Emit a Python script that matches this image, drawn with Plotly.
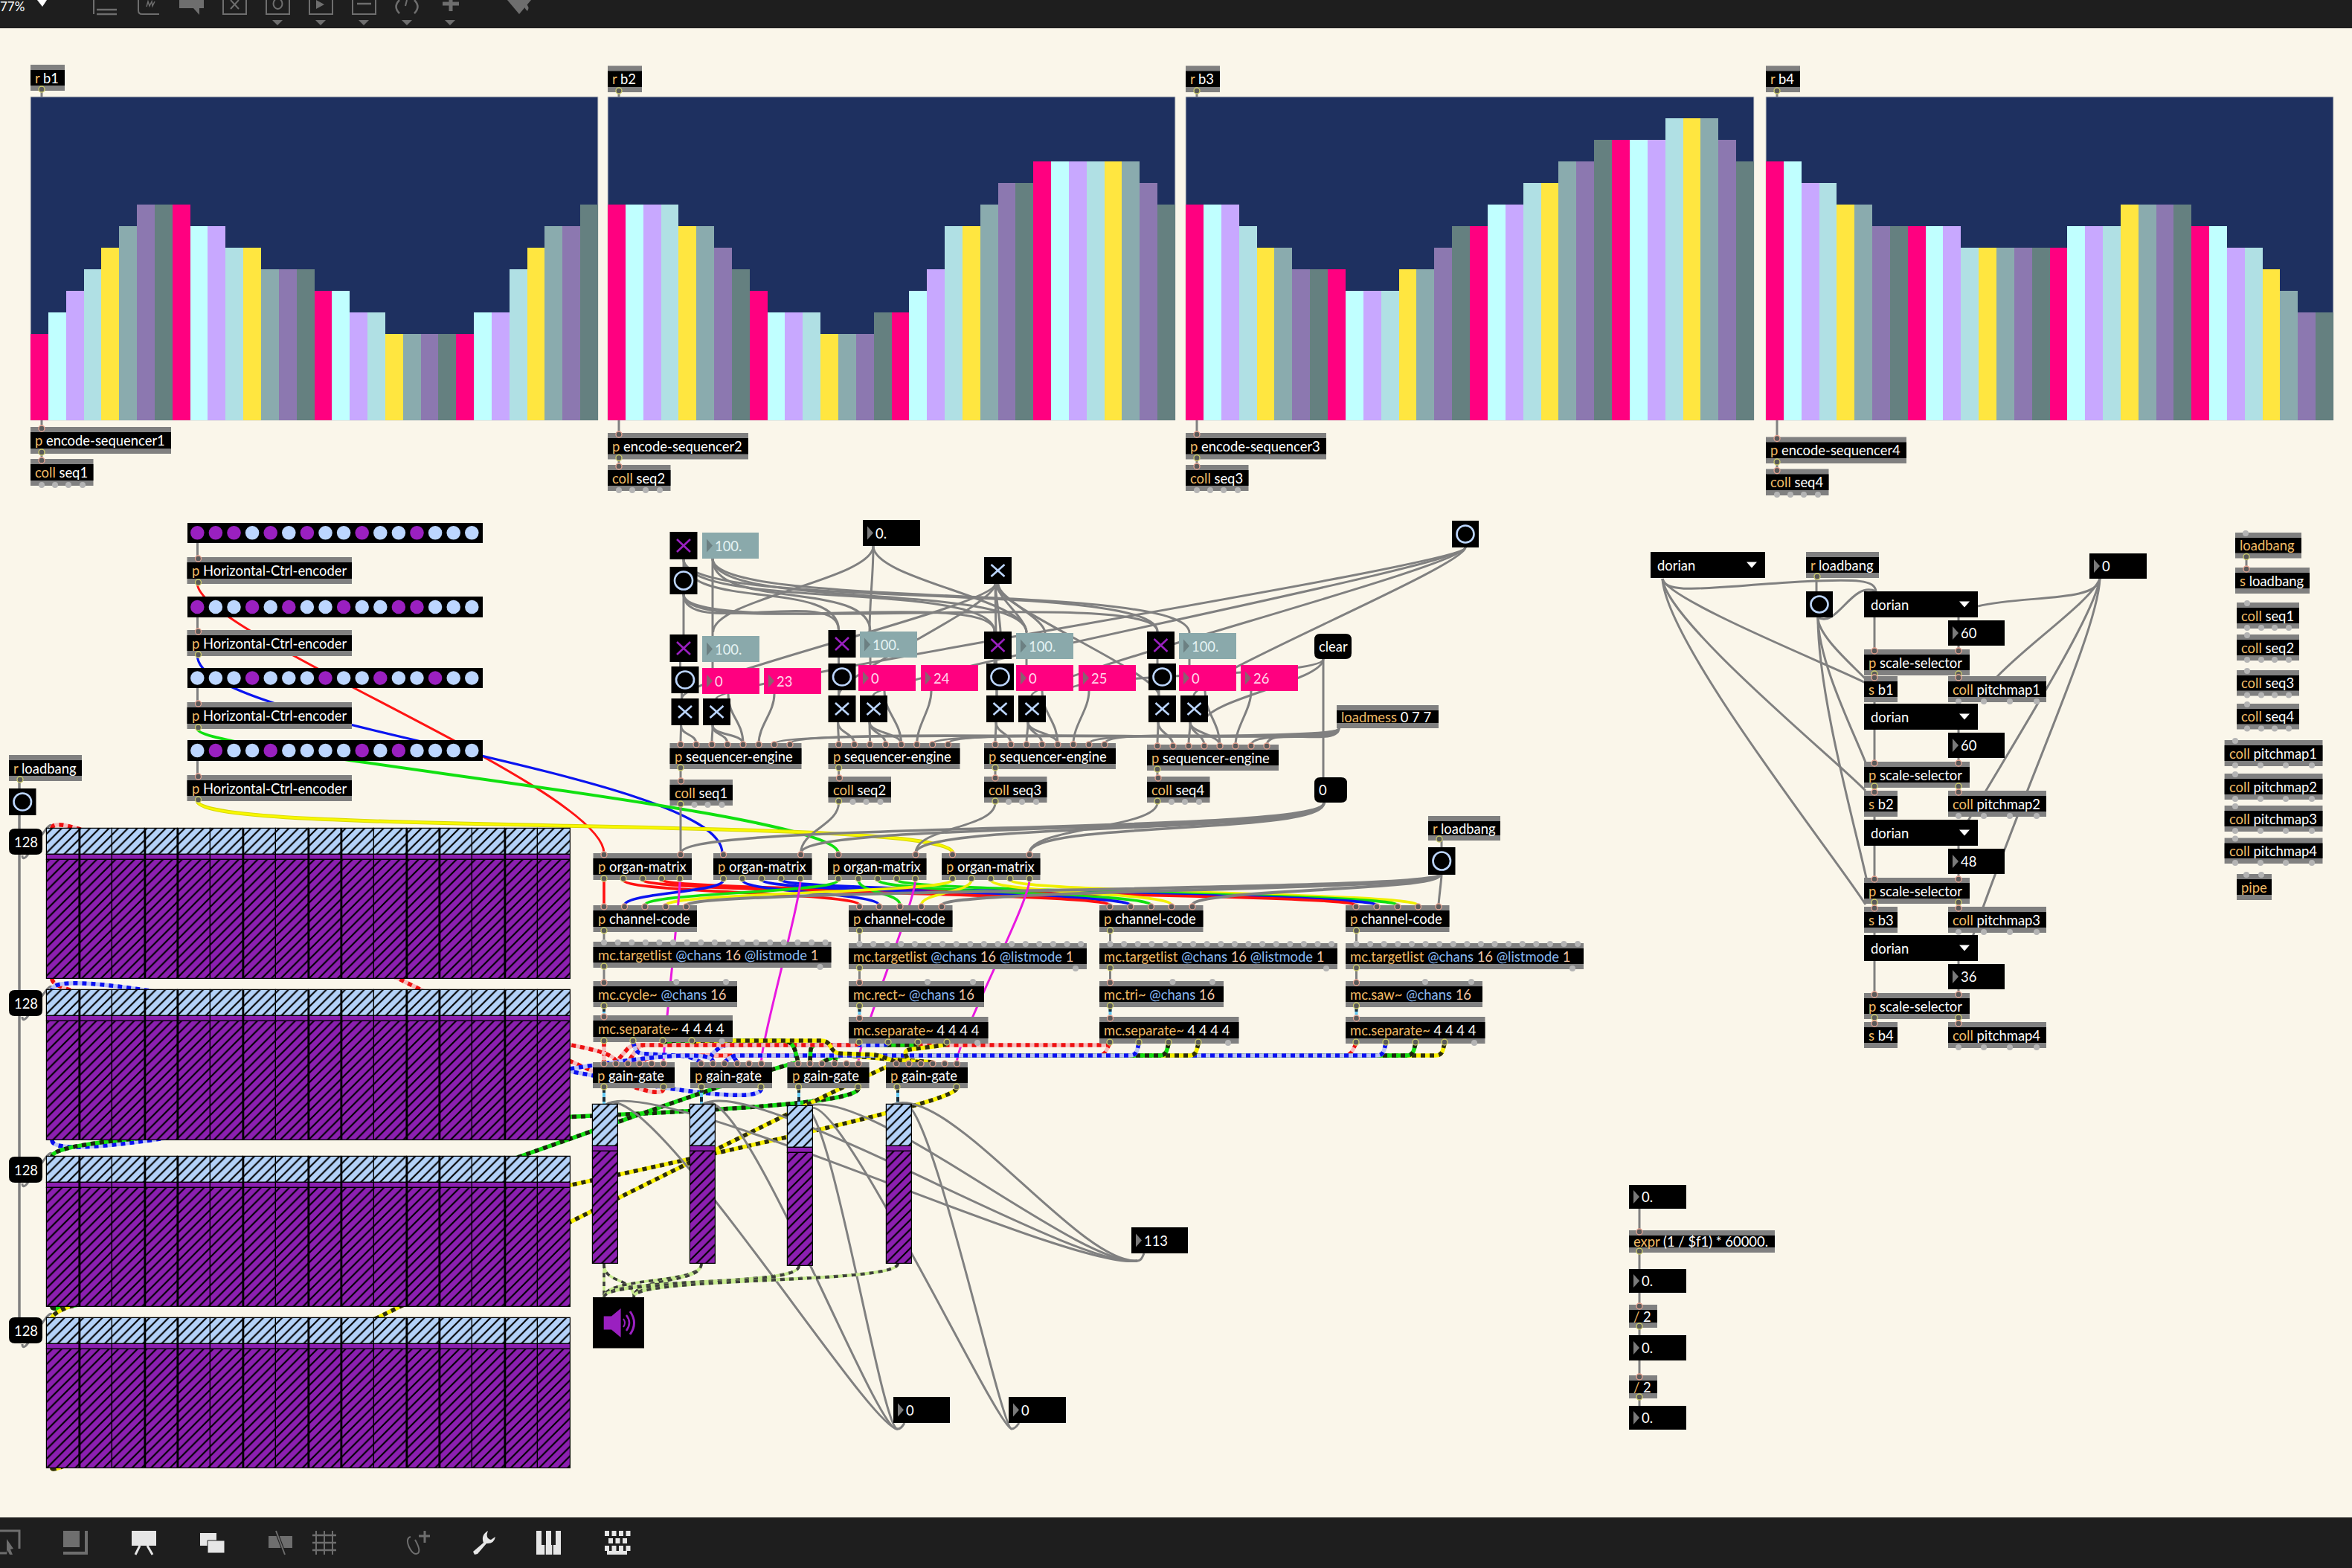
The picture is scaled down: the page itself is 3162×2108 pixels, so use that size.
import plotly.graph_objects as go

# ---------------- data ----------------
seq_levels_1 = [4,5,6,7,8,9,10,10,10,9,9,8,8,7,7,7,6,6,5,5,4,4,4,4,4,5,5,7,8,9,9,10]
seq_levels_2 = [10,10,10,10,9,9,8,7,6,5,5,5,4,4,4,5,5,6,7,9,9,10,11,11,12,12,12,12,12,12,11,10]
seq_levels_3 = [10,10,10,9,8,8,7,7,7,6,6,6,7,7,8,9,9,10,10,11,11,12,12,13,13,13,13,14,14,14,13,12]
seq_levels_4 = [12,12,11,11,10,10,9,9,9,9,9,8,8,8,8,8,8,9,9,9,10,10,10,10,9,9,8,8,7,6,5,5]
bar_palette = ["#ff0080","#c0ffff","#c8a8ff","#b0e0e4","#ffe640","#8aabae","#8c78b0","#658080"]
toggles_1 = [1,1,1,0,1,0,1,0,0,1,0,0,1,0,0,0]
toggles_2 = [1,0,0,1,0,1,0,0,1,0,0,1,1,0,0,0]
toggles_3 = [0,0,0,1,0,0,0,1,0,0,1,0,0,1,0,0]
toggles_4 = [0,1,0,0,1,0,0,0,0,1,0,1,0,0,0,0]
bank_value = [128]*16
bank_max = 154.4
gain_fraction = [0.74,0.74,0.74,0.74]
pitch_values = ["60","60","48","36"]
wave_objects = ["mc.cycle~","mc.rect~","mc.tri~","mc.saw~"]

BG="#faf6ea"; GRAY="#808080"; BAND="#808080"; ORANGE="#f2bb66"; PURPLE="#9a20c0"; LIGHT="#bcd6ff"
PINK="#ff0080"; TEAL="#8aa9ab"; CBLUE="#8ab8f0"; PEACH="#f4c8a8"
FONT="Lato"; FS=18.4

shapes=[]; annots=[]

def rect(x0,y0,x1,y1,fill,layer="above",line=None,lw=0):
    shapes.append(dict(type="rect",xref="x",yref="y",x0=x0,y0=y0,x1=x1,y1=y1,fillcolor=fill,layer=layer,
                       line=dict(color=line or fill,width=lw)))
def path(d,color=None,fill=None,lw=3,layer="above",dash=None):
    ln=dict(color=color or "rgba(0,0,0,0)",width=lw if color else 0)
    if dash: ln["dash"]=dash
    s=dict(type="path",xref="x",yref="y",path=d,layer=layer,line=ln)
    if fill: s["fillcolor"]=fill
    shapes.append(s)
def seg(x0,y0,x1,y1,color,lw=2,layer="above"):
    shapes.append(dict(type="line",xref="x",yref="y",x0=x0,y0=y0,x1=x1,y1=y1,layer=layer,line=dict(color=color,width=lw)))
def circ(cx,cy,rx,ry,fill=None,line=None,lw=1,layer="above"):
    s=dict(type="circle",xref="x",yref="y",x0=cx-rx,x1=cx+rx,y0=cy-ry,y1=cy+ry,layer=layer,
           line=dict(color=line or "rgba(0,0,0,0)",width=lw if line else 0))
    if fill: s["fillcolor"]=fill
    shapes.append(s)
def txt(x,y,s,size=FS,color="#ffffff",anchor="left"):
    annots.append(dict(x=x,y=y,xref="x",yref="y",text=s,showarrow=False,xanchor=anchor,yanchor="middle",
                       font=dict(family=FONT,size=size,color=color),borderpad=0,borderwidth=0))
def sp(s,c): return f'<span style="color:{c}">{s}</span>'

def bez(x1,y1,x2,y2,d=None):
    if d is None: d=max(14,min(70,abs(y2-y1)*0.35))
    return f"M {x1} {y1} C {x1} {y1+d}, {x2} {y2-d}, {x2} {y2}"
def route(pts,r=8):
    s=f"M {pts[0][0]} {pts[0][1]}"
    for i in range(1,len(pts)-1):
        (a,b),(c,e),(f,g)=pts[i-1],pts[i],pts[i+1]
        def toward(px,py,qx,qy):
            L=max(((qx-px)**2+(qy-py)**2)**.5,1e-6); k=min(r,L/2)/L
            return px+(qx-px)*k,py+(qy-py)*k
        p=toward(c,e,a,b); q=toward(c,e,f,g)
        s+=f" L {p[0]:.1f} {p[1]:.1f} Q {c} {e} {q[0]:.1f} {q[1]:.1f}"
    return s+f" L {pts[-1][0]} {pts[-1][1]}"
def cord(x1,y1,x2,y2,d=None,color=GRAY,w=3):
    path(bez(x1,y1,x2,y2,d),color=color,lw=w,layer="below")
def wire(d,color=GRAY,w=3):
    path(d,color=color,lw=w,layer="below")
SIG={"red":("#f6bcbc","#ee1010"),"blue":("#bcc4f4","#0a10f0"),"green":("#12e012","#1c2410"),
     "yellow":("#f8f000","#2c2c10"),"dac":("#c8ec90","#3c3c3c"),"mc":("#62c8f2","#1c2c38")}
def stripe(d,kind,w=5.5):
    a,b=SIG[kind]
    path(d,color=a,lw=w,layer="below")
    path(d,color=b,lw=w,layer="below",dash="6px,6px")

def ports(x,y,w,h,ins=(),outs=(),bt=(),bb=()):
    for px in bt: circ(px,y+1,4,4,fill="#b4b4b4")
    for px in bb: circ(px,y+h-1,4,4,fill="#b4b4b4")
    for px in ins: circ(px,y+2,4,4,fill="#5a5a5a",line="#eaa593",lw=1.3)
    for px in outs: circ(px,y+h-2,4,4,fill="#5a5a5a",line="#cfcf6a",lw=1.3)
def box(x,y,w,h,s,ins=None,outs=None,bt=(),bb=()):
    rect(x,y,x+w,y+h,BAND)
    rect(x,y+7,x+w,y+h-7,"#000000")
    ports(x,y,w,h,[x+15] if ins is None else ins,[x+15] if outs is None else outs,bt,bb)
    txt(x+6,y+h/2,s)
def obj(x0,y0,x1,y1,kw,rest="",**k):
    box(x0,y0,x1-x0,y1-y0,sp(kw,ORANGE)+(" "+rest if rest else ""),**k)
def num(x0,y0,x1,y1,s,bg="#000000",tc="#ffffff"):
    rect(x0,y0,x1,y1,bg)
    my=(y0+y1)/2
    path(f"M {x0+6} {my-9} L {x0+14} {my} L {x0+6} {my+9} Z",fill="#7a7a7a" if bg=="#000000" else "#8a6070" if bg==PINK else "#6c8082")
    txt(x0+17,my,s,color=tc)
def toggle(x0,y0,x1,y1,c=LIGHT):
    rect(x0,y0,x1,y1,"#000000")
    a=x0+9.5;b=x1-9.5;e=y0+10;f=y1-10
    seg(a,e,b,f,c,2.6); seg(a,f,b,e,c,2.6)
def button(x0,y0,x1,y1):
    rect(x0,y0,x1,y1,"#000000")
    circ((x0+x1)/2,(y0+y1)/2,(x1-x0)/2-6.5,(y1-y0)/2-6.5,line=LIGHT,lw=2.6)
def rrect(x0,y0,x1,y1,r=8,fill="#000000"):
    path(f"M {x0+r} {y0} L {x1-r} {y0} Q {x1} {y0} {x1} {y0+r} L {x1} {y1-r} Q {x1} {y1} {x1-r} {y1} L {x0+r} {y1} Q {x0} {y1} {x0} {y1-r} L {x0} {y0+r} Q {x0} {y0} {x0+r} {y0} Z",fill=fill)
def dropdown(x0,y0,x1,y1):
    rect(x0,y0,x1,y1,"#000000")
    txt(x0+9,(y0+y1)/2,"dorian")
    my=(y0+y1)/2
    path(f"M {x1-25} {my-4} L {x1-11} {my-4} L {x1-18} {my+4} Z",fill="#ffffff")

# ---------------- bar panels ----------------
panels=[(41,804),(817,1580),(1594,2358),(2374,3137)]
PT,PB=130,565
for a,b in panels:
    rect(a,PT,b,PB,"#1e3060",layer="below",line="#d8d8d2",lw=1)
tops=[(41,87,122),(817,88.5,124),(1594,88.5,124),(2374,88.5,124)]
for i,(x,y0,y1) in enumerate(tops):
    cord(x+15,y1,x+15,PT,d=2)
    obj(x,y0,x+46,y1,"r",f"b{i+1}",ins=[])
enc=[(41,574,610,617,653),(817,582,617.5,625,660),(1594,582,617.5,625,660),(2374,587.5,623,630.6,666)]
for i,(x,a,b,c,e) in enumerate(enc):
    cord(x+15,PB,x+15,a,d=2); cord(x+15,b,x+15,c,d=2)
    obj(x,a,x+189,b,"p",f"encode-sequencer{i+1}")
    obj(x,c,x+84.5,e,"coll",f"seq{i+1}",outs=[],bb=[x+15,x+33,x+51,x+70])

# ---------------- left : toggle strips, encoders ----------------
strip_y=[(702.7,730),(802,830),(898,925),(995,1023)]
enc_y=[(749,785),(847,882),(944,980),(1042,1077)]
for (a,b),(c,e) in zip(strip_y,enc_y):
    cord(265.5,b,265.5,c,d=2)
    obj(251.5,c,473,e,"p","Horizontal-Ctrl-encoder")
obj(12,1015,110,1050,"r","loadbang",ins=[])
wire(f"M 26 1050 L 26 1792",w=3.5)
button(12,1060,48.5,1096)
num_y=[1114,1331,1555,1771]
for y in num_y:
    cord(30,y+36,70,y-1,d=22,w=3)
    rrect(12,y,57,y+35)
    txt(34.5,y+17.5,"128",anchor="center")

# encoder -> matrix
path("M 265.5 785 C 265.5 850, 812 1060, 812 1147",color="#ff1414",lw=3,layer="below")
path("M 265.5 882 C 265.5 975, 971 1040, 971 1147",color="#0a14f0",lw=3.2,layer="below")
path("M 265.5 980 C 265.5 1012, 1127 1090, 1127 1147",color="#10e010",lw=4,layer="below")
path("M 265.5 1077 C 265.5 1125, 1281 1095, 1281 1147",color="#d8d800",lw=5,layer="below")
path("M 265.5 1077 C 265.5 1125, 1281 1095, 1281 1147",color="#f8f800",lw=3,layer="below")

# ---------------- sequencer section ----------------
G_px=[900.5,1113.5,1323,1542]; G_py=[853,847,849,849]
G_nx=[944,1156,1366,1585];     G_ny=[855,849,851,851]
G_bx=[902.5,1113.5,1326,1544]; G_by=[896,892,892,892]
G_0x=[944,1154,1366,1585];     G_0y=[898,894,894,894]
G_2x=[1027,1238,1450,1668]
G_xa=[902.5,1113.5,1326,1544]; G_xb=[945,1156,1369,1587]; G_xy=[939,935,935,935]
G_ey=[999,999,999,1001]; G_cy=[1048,1044,1044,1044]
G_in=[915,1127.6,1338,1556]

# top fans
for i in range(1,4):
    cord(919,752,G_px[i]+14,G_py[i],d=70)
    cord(919,799,G_px[i]+14,G_py[i],d=60)
    cord(958,751,G_nx[i]+14,G_ny[i],d=70)
for tx in (958.6,1169,1380):
    cord(1174,734,tx,850,d=45)
for i in range(4):
    cord(1338,785,G_xa[i]+14,G_xy[i],d=30)
    cord(1970,736,G_xb[i]+18,G_xy[i],d=25)
cord(1338,785,1345,849,d=10); cord(1340,785,1380,850,d=18); cord(1342,785,1405,851,d=20)
wire("M 919 752 L 919 853"); wire("M 958 751 L 958 855")
for i in range(4):
    b=G_in[i]; iy=G_ey[i]+1
    x1=G_xa[i]+13; x2=G_xb[i]+13; oy=G_xy[i]+36
    for k,sx in enumerate([x1,x1,x2,x2,x2]):
        cord(sx,oy,b+21*k,iy,d=14)
    cord(G_0x[i]+35,G_0y[i]+35,b+21*4,iy,d=30)
    cord(G_2x[i]+14,G_0y[i]+35,b+21*5,iy,d=25)
    wire(f"M {G_nx[i]+14} {G_ny[i]+35} L {G_nx[i]+14} {G_0y[i]}")
    wire(f"M {G_px[i]+14} {G_py[i]+36} L {G_px[i]+14} {G_by[i]}")
    wire(f"M {G_xa[i]+14} {G_by[i]+30} L {G_xa[i]+14} {G_xy[i]}")
    cord(1800,979,b+21*7,iy,d=26)
    cord(1800,979,b+21*6,iy,d=22)
    cord(b,G_ey[i]+35,b,G_cy[i]+1,d=3)
cord(1779,886,G_xb[3]+32,G_xy[3]+36,d=30)
cord(1779,886,G_0x[2]+70,G_0y[2]+35,d=25)
wire("M 1779 886 L 1779 1045")

for i in range(4):
    toggle(G_px[i],G_py[i],G_px[i]+37,G_py[i]+37,PURPLE)
    num(G_nx[i],G_ny[i],G_nx[i]+77,G_ny[i]+35,"100.",bg=TEAL,tc="#e4f2f2")
    button(G_bx[i],G_by[i],G_bx[i]+37,G_by[i]+36)
    num(G_0x[i],G_0y[i],G_0x[i]+77,G_0y[i]+35,"0",bg=PINK,tc="#ffd8ec")
    num(G_2x[i],G_0y[i],G_2x[i]+77,G_0y[i]+35,str(23+i),bg=PINK,tc="#ffd8ec")
    toggle(G_xa[i],G_xy[i],G_xa[i]+37,G_xy[i]+36)
    toggle(G_xb[i],G_xy[i],G_xb[i]+37,G_xy[i]+36)
    ex=G_px[i]
    obj(ex,G_ey[i],ex+177,G_ey[i]+35,"p","sequencer-engine",ins=[G_in[i]+21*k for k in range(8)],outs=[G_in[i]])
    obj(ex,G_cy[i],ex+84.5,G_cy[i]+35,"coll",f"seq{i+1}",outs=[G_in[i]],bb=[ex+33,ex+51,ex+70])

toggle(900.5,715,937.5,752,PURPLE)
num(944,716,1020,751,"100.",bg=TEAL,tc="#e4f2f2")
num(1160,699,1237,734,"0.")
button(900.5,762,937.5,799)
toggle(1323,749,1360,785)
button(1952,700,1988,736)
rrect(1767,852,1817,886)
txt(1773,869,"clear")
obj(1797,948,1934,979,"loadmess","0 7 7",ins=[],outs=[])
rrect(1767,1045,1811,1079)
txt(1773,1062,"0")

# coll -> matrix
org_x=[797.5,959,1113,1266]
org_in=[915,1076.6,1231,1384]
cord(915,1083,915,1147,d=3)
cord(1127.6,1079,1076.6,1147,d=30)
cord(1338,1079,1231,1147,d=35)
cord(1556,1079,1384,1147,d=35)
for tx in org_in:
    cord(1780,1079,tx,1147,d=44,w=3.5)

# ---------------- matrix, channel code, mc objects ----------------
org_outs=[[812,838,864,889.5,914],[972.5,998,1024,1050,1076],[1127,1154,1180,1205.5,1230.5],[1280.5,1306,1332,1358,1384]]
org_red=[812,972.5,1127,1280.5]
cc_x=[797.5,1141,1478,1809]
cc_in=[[812,839.5,867,895,922.5],[1155.5,1182,1210,1238.6,1266],[1492,1520,1547.5,1575,1603],[1823,1851,1879,1906.5,1934]]
cols=["#ff1010","#0a14f0","#10e010","#f0f000"]
for i in [3,2,1,0]:
    for j in [3,2,1,0]:
        cord(org_outs[j][i],1183,cc_in[i][j],1217,d=17,color=cols[j],w=3.6)
cord(1938,1176,1934,1217,d=6)
for tx in cc_in[:3]:
    cord(1936,1176,tx[4],1217,d=22,w=4)
gate_x=[797,928,1058.5,1191]
gate_in=[[812,828,844,860,876,892],[942.5,958.5,974,991,1007,1023.5],[1073,1089,1105,1122,1138,1154],[1205,1222,1238,1254,1270,1286.4]]
for j in range(4):
    cord(org_outs[j][4],1183,gate_in[j][5],1428,d=30,color="#e818e0",w=3)

tl=[(797.5,1266,1301),(1141,1268,1303),(1478,1268,1303),(1809,1268,1303)]
wv=[(797.5,193.5),(1141,182),(1478,167),(1809,184)]
sep=[(797.5,1365,1401),(1141,1367,1403),(1478,1367,1403),(1809,1367,1403)]
for i in range(4):
    x=cc_x[i]+14.5
    cord(x,1253,x,tl[i][1],d=2); cord(x,tl[i][2],x,1319,d=2)
    stripe(f"M {x} 1354 L {x} {sep[i][1]}","mc",w=4)

s_out=[[812,851,891,930],[1155,1194,1234,1273],[1492,1531,1571,1611],[1823,1863,1903,1942]]
R1,R2=1405,1419
for s in (3,2):
    o=s_out[s]
    stripe(route([(o[0],1403),(o[0]-8,R2),(880,R2),(gate_in[0][s],1428)]),"red",w=5)
    stripe(route([(o[3],1403),(o[3]-4,R2),(1140,R2),(gate_in[3][s],1428)]),"yellow")
    stripe(route([(o[2],1403),(o[2]-4,R2),(1125,R2),(gate_in[2][s],1428)]),"green")
    stripe(route([(o[1],1403),(o[1]-4,R2),(985,R2),(gate_in[1][s],1428)]),"blue")
stripe(route([(1492,1403),(1490,R1),(860,R1),(gate_in[0][2],1428)]),"red")
stripe(route([(1234,1403),(1230,R1),(1090,R1),(gate_in[2][1],1428)]),"green")
stripe(route([(1273,1403),(1270,R1),(1215,1412),(gate_in[3][1],1428)]),"yellow")
stripe(route([(1194,1403),(1190,R1),(972,R1),(955,1418),(gate_in[1][1],1428)]),"blue")
stripe(route([(1155,1403),(1150,R1),(848,R1),(gate_in[0][1],1428)]),"red")
stripe(route([(891,1401),(905,1399),(1060,1399),(1068,1408),(gate_in[2][0],1428)]),"green")
stripe(route([(930,1401),(940,1399),(1112,1399),(1122,1416),(1180,1418),(gate_in[3][0],1428)]),"yellow")
stripe(route([(851,1401),(856,1416),(925,1420),(gate_in[1][0],1428)]),"blue")
stripe(f"M 812 1401 L 812 1428","red")
stripe(bez(892,1463,70,1114,60),"red")
stripe(bez(70,1316,828,1428,50),"red")
stripe(bez(1023.5,1463,70,1331,60),"blue")
stripe(bez(70,1533,958.5,1428,55),"blue")
stripe("M 1154 1463 C 1154 1510, 70 1505, 70 1555","green")
stripe("M 70 1757 C 70 1790, 1000 1440, 1074 1428","green")
stripe("M 1286 1463 C 1286 1500, 70 1722, 70 1772","yellow")
stripe("M 70 1974 C 70 2000, 1100 1470, 1207 1428","yellow")
fx=[797,928,1059,1192]; ft=[1485,1485,1487,1485]; fb=[1699,1699,1702,1699]
for i in range(4):
    stripe(f"M {fx[i]+15} 1463 L {fx[i]+15} {ft[i]}","mc",w=4)
wire("M 1529 1695 C 1440 1710, 880 1440, 815 1485")
wire("M 1529 1695 C 1445 1708, 1010 1440, 945 1485")
wire("M 1529 1695 C 1448 1704, 1150 1445, 1080 1490")
wire("M 1529 1695 C 1450 1700, 1275 1455, 1200 1485")
wire("M 1529 1695 C 1534 1695, 1536 1690, 1538 1685")
wire("M 1207 1921 C 1170 1925, 870 1440, 815 1485")
wire("M 1207 1921 C 1180 1935, 995 1440, 945 1485")
wire("M 1207 1921 C 1185 1925, 1115 1470, 1080 1490")
wire("M 1207 1921 C 1212 1921, 1214 1916, 1216 1913")
wire("M 1360 1921 C 1340 1920, 1130 1470, 1090 1490")
wire("M 1360 1921 C 1345 1920, 1250 1470, 1215 1485")
wire("M 1360 1921 C 1365 1921, 1368 1916, 1370 1913")
for i in range(4):
    for dx in (812,852):
        stripe(bez(fx[i]+15,fb[i],dx,1744,28),"dac",w=3.5)

for i in range(4):
    x=org_x[i]
    obj(x,1147,x+132.5,1183,"p","organ-matrix",ins=[org_red[i],org_in[i]],outs=org_outs[i])
    x=cc_x[i]
    obj(x,1217,x+139.5,1253,"p","channel-code",ins=cc_in[i],outs=[x+14.5])
    y0,y1=tl[i][1],tl[i][2]
    lab=sp("mc.targetlist",ORANGE)+" "+sp("@chans",CBLUE)+" "+sp("16",PEACH)+" "+sp("@listmode",CBLUE)+" "+sp("1",PEACH)
    box(x,y0,320,35,lab,ins=[],outs=[x+14.5],bt=[x+14.5+18.6*k for k in range(17)],bb=[x+305])
    w=wv[i][1]
    box(x,1319,w,35,sp(wave_objects[i],ORANGE)+" "+sp("@chans",CBLUE)+" "+sp("16",PEACH),outs=[x+14.5],ins=[x+14.5],bt=[x+w/2+15,x+w-15])
    a,b=sep[i][1],sep[i][2]
    obj(x,a,x+187.5,b,"mc.separate~","4 4 4 4",ins=[x+14.5],outs=s_out[i],bb=[x+173])
    obj(gate_x[i],1428,gate_x[i]+110,1463,"p","gain-gate",ins=gate_in[i],outs=[gate_x[i]+15,gate_x[i]+95])

cord(1938,1130,1938,1139,d=2)
obj(1920,1097,2017,1130,"r","loadbang",ins=[])
button(1920,1139,1956.5,1176)

rect(797,1744,866,1812.5,"#000000")
path("M 811.7 1769.6 L 822 1769.6 L 834.6 1759 L 834.6 1798 L 822 1787.5 L 811.7 1787.5 Z",fill=PURPLE)
path("M 838 1773 Q 842 1778.5 838 1784",color=PURPLE,lw=2)
path("M 842 1768 Q 850 1778.5 842 1789",color=PURPLE,lw=2.5)
path("M 847 1763 Q 858 1778.5 847 1794",color=PURPLE,lw=3)
num(1521,1650,1597,1685,"113")
num(1201,1878,1277,1913,"0")
num(1356,1878,1433,1913,"0")

# ---------------- scale section ----------------
path("M 2235 778 C 2240 800, 2290 790, 2420 782 C 2500 778, 2520 780, 2522 795",color=GRAY,lw=3,layer="below")
for ty in (918,1063,1216):
    dy=ty-778
    path(f"M 2235 778 C 2240 {778+dy*0.2:.0f}, 2470 {ty-dy*0.14:.0f}, 2508 {ty}",color=GRAY,lw=3,layer="below")
for ty in (915,1030,1185):
    dy=ty-830
    path(f"M 2444 830 C 2444 {830+dy*0.3:.0f}, 2495 {ty-dy*0.2:.0f}, 2510 {ty}",color=GRAY,lw=3,layer="below")
cord(2442,768,2442,795,d=2)
path("M 2444 830 C 2470 845, 2490 780, 2522 795",color=GRAY,lw=3,layer="below")
path("M 2823 778 C 2820 810, 2720 800, 2659 815",color=GRAY,lw=3,layer="below")
path("M 2823 778 C 2810 810, 2720 870, 2680 915",color=GRAY,lw=3,layer="below")
path("M 2823 778 C 2815 830, 2700 1010, 2642 1110",color=GRAY,lw=3,layer="below")
path("M 2823 778 C 2820 850, 2720 1060, 2650 1265",color=GRAY,lw=3,layer="below")
sc_dd=[795,946,1102,1257]; sc_n=[834,985,1141,1296]; sc_s=[873,1024,1180,1335]; sc_o=[909,1063,1219,1374]
for i in range(4):
    wire(f"M 2520 {sc_dd[i]} L 2520 {sc_s[i]}")
    wire(f"M 2633 {sc_dd[i]+30} L 2633 {sc_n[i]}")
    wire(f"M 2633 {sc_n[i]+34} L 2633 {sc_s[i]}")
    wire(f"M 2520 {sc_s[i]+34} L 2520 {sc_o[i]}")
    wire(f"M 2633 {sc_s[i]+34} L 2633 {sc_o[i]}")
    if i<3:
        wire(f"M 2520 {sc_o[i]+34} L 2520 {sc_dd[i+1]}")
for i in range(4):
    dropdown(2506,sc_dd[i],2659,sc_dd[i]+35)
    num(2619,sc_n[i],2695,sc_n[i]+34,pitch_values[i])
    obj(2506,sc_s[i],2648,sc_s[i]+35,"p","scale-selector",ins=[2520,2633],outs=[2520,2633])
    obj(2506,sc_o[i],2551,sc_o[i]+35,"s",f"b{i+1}",ins=[2520],outs=[])
    obj(2619,sc_o[i],2751,sc_o[i]+35,"coll",f"pitchmap{i+1}",ins=[2633],outs=[],bb=[2633,2667,2702,2738])
dropdown(2219,742,2373,777)
obj(2428,742,2526,777,"r","loadbang",ins=[])
button(2428,795,2464,830)
num(2809,744,2886,778,"0")

cord(3020,750.5,3020,763,d=2)
obj(3005,716,3094,750.5,"loadbang","",ins=[],bt=[3019])
obj(3005,763,3105,798,"s","loadbang",outs=[])
for i,(a,b) in enumerate([(810,845),(853,888),(901,935.5),(946,980.5)]):
    obj(3007,a,3091,b,"coll",f"seq{i+1}",ins=[],outs=[],bt=[3021],bb=[3021,3040,3058,3077])
for i,(a,b) in enumerate([(995,1030),(1040,1075),(1083,1118),(1126.5,1161)]):
    obj(2990.6,a,3122.5,b,"coll",f"pitchmap{i+1}",ins=[],outs=[],bt=[3005],bb=[3005,3039,3073,3108])
obj(3007,1175,3054,1210,"pipe","",ins=[],outs=[],bt=[3020,3040])

for a,b in [(1625,1654),(1684,1706),(1738,1754),(1785,1795),(1829,1849),(1880,1890)]:
    cord(2204,a,2204,b,d=2)
num(2190,1593,2267,1625,"0.")
obj(2190,1654,2386,1684,"expr","(1 / $f1) * 60000.",outs=[2204],ins=[2204])
num(2190,1706,2267,1738,"0.")
obj(2190,1754,2228,1785,"/","2",outs=[2204],ins=[2204])
num(2190,1795,2267,1829,"0.")
obj(2190,1849,2228,1880,"/","2",outs=[2204],ins=[2204])
num(2190,1890,2267,1922,"0.")

bank_top=[1114,1331,1555,1772]
BANK_W=44
for top in bank_top:
    for k in (1,3,4,6,8,9,11,12,14):
        seg(63+BANK_W*k,top,63+BANK_W*k,top+202,"#000000",2.6)

# ---------------- toolbars ----------------
rect(0,0,3162,38,"#1e1e1e"); rect(0,2040,3162,2108,"#1e1e1e")
I="#6e6e6e"; W="#e6e6e6"
txt(0,8,"77%",size=17,color="#ffffff")
path("M 50 0 L 63 0 L 57 9 Z",fill="#ffffff")
seg(126,0,126,19,I,2); seg(130,13,157,13,I,2.5); seg(130,19,157,19,I,2.5)
path("M 186 0 L 186 14 Q 186 19 191 19 L 214 19",color=I,lw=2)
path("M 197 9 L 199 2 L 201 8 L 204 2 L 205 8 L 208 2",color=I,lw=1.5)
path("M 241 0 L 274 0 L 274 11 L 268 11 L 268 20 L 260 11 L 241 11 Z",fill=I)
for xa in (300,358,416,474):
    path(f"M {xa} 0 L {xa} 19 L {xa+31} 19 L {xa+31} 0",color=I,lw=2)
seg(310,0,321,12,I,2); seg(321,0,310,12,I,2)
circ(373.5,5,6,7,line=I,lw=2)
path("M 425 0 L 436 6 L 425 12 Z",fill=I)
seg(480,5,499,5,I,2.5)
path("M 537 0 Q 528 9 537 18",color=I,lw=2.5); path("M 557 0 Q 566 9 557 18",color=I,lw=2.5); seg(547,0,545,8,I,2)
seg(606,0,606,15,I,5); seg(595,5,617,5,I,5)
path("M 682 0 L 714 0 L 698 19 Z",fill=I)
path("M 706 3 Q 713 10 709 15 Q 703 10 706 3 Z",fill=I)
for ax in (373,431,489,547,605):
    path(f"M {ax-7} 27 L {ax+7} 27 L {ax} 34 Z",fill=I)
path("M 0 2058 L 26 2058 L 26 2082",color=I,lw=3)
path("M 9 2069 L 18 2082 L 14 2083 L 17 2090 L 13 2090 L 10 2084 L 9 2090 Z",fill=I)
seg(0,2088,9,2088,I,3)
rect(85,2058,107,2080,I)
path("M 116 2058 L 116 2088 L 85 2088",color=I,lw=4)
rect(177,2058,210,2078,W)
path("M 188 2078 L 182 2090",color=W,lw=3); path("M 198 2078 L 205 2090",color=W,lw=3)
rect(269,2061,291,2078,W); rect(279,2071,302,2088,W,line="#1e1e1e",lw=1)
rect(361,2065,393,2081,I); seg(371,2058,383,2090,"#1e1e1e",4); seg(371,2058,383,2090,I,2)
for v in (425,436,447): seg(v,2058,v,2090,I,2)
for h in (2064,2074,2084): seg(420,h,452,h,I,2.5)
path("M 552 2066 Q 545 2068 550 2080 Q 556 2092 562 2088 Q 566 2084 558 2070",color=I,lw=2)
seg(571,2058,571,2074,I,3); seg(563,2065,578,2065,I,3)
path("M 656 2058 Q 646 2064 650 2074 L 636 2086 L 638 2090 L 642 2089 L 654 2075 Q 664 2076 666 2066 L 660 2070 Q 652 2068 656 2058 Z",fill=W)
rect(721,2058,754,2090,W)
for v in (733,743): seg(v,2058,v,2090,"#1e1e1e",1.5)
rect(728,2058,734,2077,"#1e1e1e"); rect(741,2058,747,2077,"#1e1e1e")
for r_,(n,xs_) in enumerate([(4,813),(3,818),(4,813)]):
    for k in range(n):
        rect(xs_+k*9.5,2058+r_*10,xs_+k*9.5+6,2065+r_*10,W)
rect(816,2085,843,2090,W)

# ---------------- traces ----------------
levels=[seq_levels_1,seq_levels_2,seq_levels_3,seq_levels_4]
data=[]
for i,vals in enumerate(levels):
    n=str(i+2)
    data.append(go.Bar(x=list(range(32)),y=vals,width=1,
        marker=dict(color=[bar_palette[k%8] for k in range(32)],line=dict(width=0)),xaxis="x"+n,yaxis="y"+n,showlegend=False,hoverinfo="skip"))

xs=[];ws=[];up_b=[];up_h=[];band_b=[];low_b=[];low_h=[]
for top in bank_top:
    for k,v in enumerate(bank_value):
        u=202*(1-v/bank_max)
        xs.append(63+BANK_W*(k+.5));ws.append(BANK_W)
        up_b.append(top);up_h.append(u);band_b.append(top+u);low_b.append(top+u+7);low_h.append(202-u-7)
for i,fr in enumerate(gain_fraction):
    H=fb[i]-ft[i];u=H*(1-fr)
    xs.append(fx[i]+16.8);ws.append(33.6)
    up_b.append(ft[i]);up_h.append(u);band_b.append(ft[i]+u);low_b.append(ft[i]+u+7);low_h.append(H-u-7)
def hbar(b,h,bg,hatch=True):
    pat=dict(shape="/",fgcolor="#000000",bgcolor=bg,size=9,solidity=0.24,fillmode="replace") if hatch else None
    mk=dict(color=bg,line=dict(color="#000000",width=1.2))
    if pat: mk["pattern"]=pat
    return go.Bar(x=xs,y=h,base=b,width=ws,marker=mk,xaxis="x6",yaxis="y6",showlegend=False,hoverinfo="skip")
data.append(hbar(up_b,up_h,"#b4d2f8"))
data.append(hbar(band_b,[7]*len(xs),"#8c1fb0",hatch=False))
data.append(hbar(low_b,low_h,"#8c1fb0"))

data.append(go.Bar(x=[450]*4,y=[b-a for a,b in strip_y],base=[a for a,b in strip_y],width=[397]*4,
    marker=dict(color="#000000",line=dict(width=0)),xaxis="x6",yaxis="y6",showlegend=False,hoverinfo="skip"))
cx=[];cy=[];cc=[]
for (a,b),st in zip(strip_y,[toggles_1,toggles_2,toggles_3,toggles_4]):
    for k,v in enumerate(st):
        cx.append(265.3+24.6*k);cy.append((a+b)/2);cc.append(PURPLE if v else LIGHT)
data.append(go.Scatter(x=cx,y=cy,mode="markers",marker=dict(size=18.5,color=cc,line=dict(width=0)),xaxis="x6",yaxis="y6",showlegend=False,hoverinfo="skip"))

W_,H_=3162,2108
layout=dict(width=W_,height=H_,margin=dict(l=0,r=0,t=0,b=0,pad=0),paper_bgcolor=BG,plot_bgcolor="rgba(0,0,0,0)",
    barmode="overlay",bargap=0,showlegend=False,shapes=shapes,annotations=annots,font=dict(family=FONT),
    xaxis=dict(domain=[0,1],range=[0,W_],visible=False,fixedrange=True,anchor="y"),
    yaxis=dict(domain=[0,1],range=[H_,0],visible=False,fixedrange=True,anchor="x"),
    xaxis6=dict(domain=[0,1],range=[0,W_],visible=False,fixedrange=True,anchor="y6"),
    yaxis6=dict(domain=[0,1],range=[H_,0],visible=False,fixedrange=True,anchor="x6"))
for i,(a,b) in enumerate(panels):
    n=str(i+2)
    layout["xaxis"+n]=dict(domain=[a/W_,b/W_],range=[-.5,31.5],visible=False,fixedrange=True,anchor="y"+n)
    layout["yaxis"+n]=dict(domain=[1-PB/H_,1-PT/H_],range=[0,15],visible=False,fixedrange=True,anchor="x"+n)
fig=go.Figure(data=data,layout=layout)
fig.write_html("out.html",config=dict(displayModeBar=False),
    post_script="document.body.style.margin='0';document.body.style.overflow='hidden';document.body.style.background='"+BG+"';")
